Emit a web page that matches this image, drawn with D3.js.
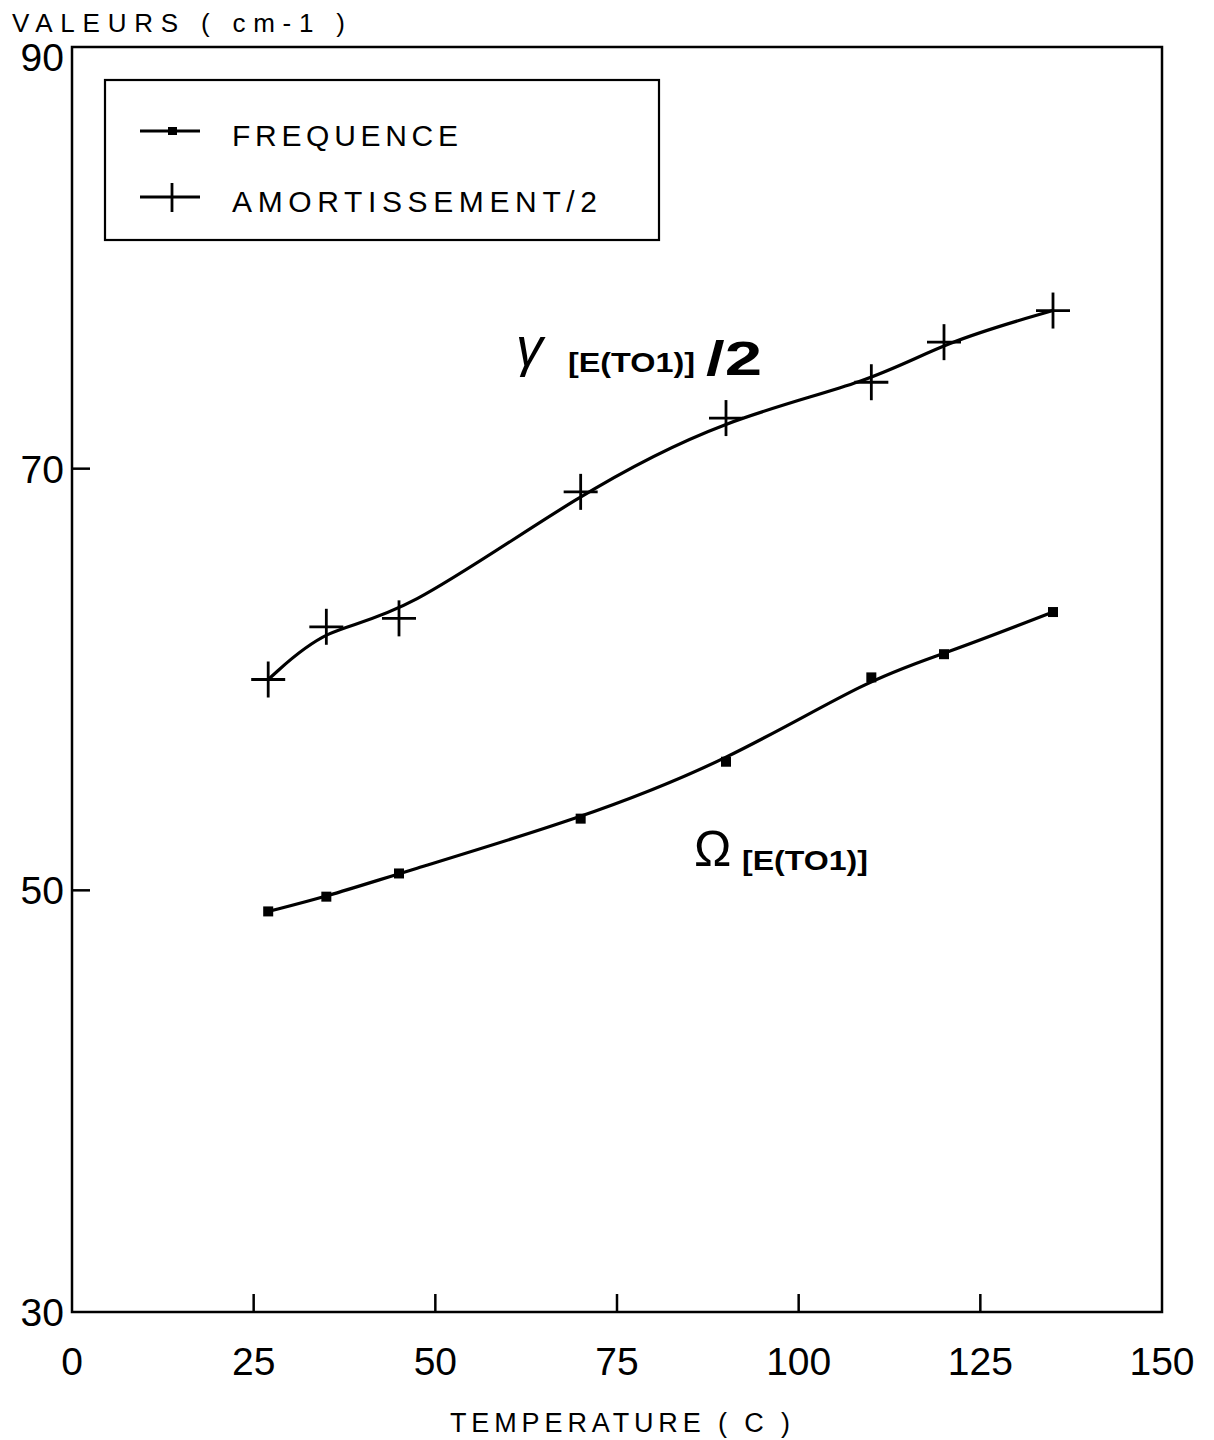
<!DOCTYPE html>
<html>
<head>
<meta charset="utf-8">
<script src="https://cdn.jsdelivr.net/npm/d3@7"></script>
<style>
  html, body { margin: 0; padding: 0; background: #fff; }
  svg { display: block; }
  text { fill: #000; font-family: "Liberation Sans", Arial, sans-serif; }
</style>
</head>
<body>
<script>
// ---- data ----
const temperatures = [27, 35, 45, 70, 90, 110, 120, 135];
const frequence = [49.0, 49.7, 50.8, 53.4, 56.1, 60.1, 61.2, 63.2];
const amortissement2 = [60.0, 62.5, 62.9, 68.9, 72.4, 74.1, 76.0, 77.5];
const xTicks = [0, 25, 50, 75, 100, 125, 150];
const yTicks = [30, 50, 70, 90];
const yInnerTicks = [50, 70];
const xInnerTicks = [25, 50, 75, 100, 125];

const W = 1214, H = 1440;
const svg = d3.select("body").append("svg").attr("width", W).attr("height", H);

const x = d3.scaleLinear().domain([0, 150]).range([72, 1162]);
const y = d3.scaleLinear().domain([30, 90]).range([1312, 47]);

// frame
svg.append("rect")
  .attr("x", x(0)).attr("y", y(90))
  .attr("width", x(150) - x(0)).attr("height", y(30) - y(90))
  .attr("fill", "none").attr("stroke", "#000").attr("stroke-width", 2.5);

// inner ticks
svg.selectAll(".yt").data(yInnerTicks).enter().append("line")
  .attr("x1", x(0)).attr("x2", x(0) + 18)
  .attr("y1", d => y(d)).attr("y2", d => y(d))
  .attr("stroke", "#000").attr("stroke-width", 2.5);
svg.selectAll(".xt").data(xInnerTicks).enter().append("line")
  .attr("x1", d => x(d)).attr("x2", d => x(d))
  .attr("y1", y(30)).attr("y2", y(30) - 18)
  .attr("stroke", "#000").attr("stroke-width", 2.5);

// tick labels
svg.selectAll(".yl").data(yTicks).enter().append("text")
  .attr("x", x(0) - 8).attr("y", d => y(d) + (d === 90 ? 24 : 14))
  .attr("text-anchor", "end").attr("font-size", 39)
  .text(d => d);
svg.selectAll(".xl").data(xTicks).enter().append("text")
  .attr("x", d => x(d)).attr("y", 1375)
  .attr("text-anchor", "middle").attr("font-size", 39)
  .text(d => d);

// axis titles
svg.append("text").attr("x", 12).attr("y", 32)
  .attr("font-size", 26).attr("textLength", 333).attr("lengthAdjust", "spacing")
  .text("VALEURS ( cm-1 )");
svg.append("text").attr("x", 450).attr("y", 1432)
  .attr("font-size", 27).attr("textLength", 340).attr("lengthAdjust", "spacing")
  .text("TEMPERATURE  (  C )");

// curves
const line = d3.line()
  .x(d => x(d[0])).y(d => y(d[1]))
  .curve(d3.curveBasis);

const freqPts = temperatures.map((t, i) => [t, frequence[i]]);
const amorPts = temperatures.map((t, i) => [t, amortissement2[i]]);

svg.append("path").attr("d", line(freqPts))
  .attr("fill", "none").attr("stroke", "#000").attr("stroke-width", 3.2);
svg.append("path").attr("d", line(amorPts))
  .attr("fill", "none").attr("stroke", "#000").attr("stroke-width", 3.2);

// markers
svg.selectAll(".sq").data(freqPts).enter().append("rect")
  .attr("x", d => x(d[0]) - 5).attr("y", d => y(d[1]) - 5)
  .attr("width", 10).attr("height", 10).attr("fill", "#000");
const cr = svg.selectAll(".cr").data(amorPts).enter().append("g")
  .attr("transform", d => `translate(${x(d[0])},${y(d[1])})`);
cr.append("line").attr("x1", -17).attr("x2", 17).attr("y1", 0).attr("y2", 0)
  .attr("stroke", "#000").attr("stroke-width", 2.8);
cr.append("line").attr("x1", 0).attr("x2", 0).attr("y1", -18).attr("y2", 18)
  .attr("stroke", "#000").attr("stroke-width", 2.8);

// legend
svg.append("rect").attr("x", 105).attr("y", 80).attr("width", 554).attr("height", 160)
  .attr("fill", "#fff").attr("stroke", "#000").attr("stroke-width", 2.2);
svg.append("line").attr("x1", 140).attr("x2", 200).attr("y1", 131).attr("y2", 131)
  .attr("stroke", "#000").attr("stroke-width", 2.8);
svg.append("rect").attr("x", 168).attr("y", 127).attr("width", 9).attr("height", 8).attr("fill", "#000");
svg.append("text").attr("x", 232).attr("y", 146).attr("font-size", 30)
  .attr("textLength", 226).attr("lengthAdjust", "spacing")
  .text("FREQUENCE");
svg.append("line").attr("x1", 140).attr("x2", 200).attr("y1", 197).attr("y2", 197)
  .attr("stroke", "#000").attr("stroke-width", 2.8);
svg.append("line").attr("x1", 172).attr("x2", 172).attr("y1", 183).attr("y2", 212)
  .attr("stroke", "#000").attr("stroke-width", 2.8);
svg.append("text").attr("x", 232).attr("y", 212).attr("font-size", 30)
  .attr("textLength", 365).attr("lengthAdjust", "spacing")
  .text("AMORTISSEMENT/2");

// annotations
svg.append("text").attr("x", 516).attr("y", 366)
  .attr("font-size", 54).attr("font-style", "italic")
  .attr("font-family", "DejaVu Serif, serif").text("γ");
svg.append("text").attr("x", 568).attr("y", 372)
  .attr("font-size", 27).attr("font-weight", "bold")
  .attr("textLength", 127).attr("lengthAdjust", "spacingAndGlyphs")
  .text("[E(TO1)]");
svg.append("text").attr("x", 706).attr("y", 375)
  .attr("font-size", 48).attr("font-weight", "bold")
  .attr("textLength", 56).attr("lengthAdjust", "spacingAndGlyphs")
  .text("/2");

svg.append("text").attr("x", 694).attr("y", 866)
  .attr("font-size", 50).attr("font-family", "DejaVu Sans, sans-serif").text("Ω");
svg.append("text").attr("x", 742).attr("y", 870)
  .attr("font-size", 27).attr("font-weight", "bold")
  .attr("textLength", 126).attr("lengthAdjust", "spacingAndGlyphs")
  .text("[E(TO1)]");
</script>
</body>
</html>
